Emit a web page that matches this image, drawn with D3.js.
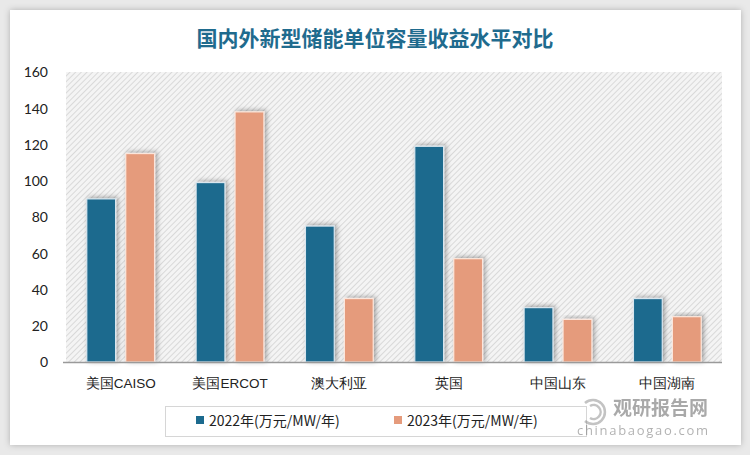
<!DOCTYPE html>
<html><head><meta charset="utf-8">
<script src="https://cdn.jsdelivr.net/npm/d3@7"></script>
<style>
html,body{margin:0;padding:0;background:#e9e9e9;}
svg{display:block;font-family:"Noto Sans CJK SC","Noto Sans",sans-serif;}
</style></head><body>
<svg id="c" width="750" height="455"></svg>
<script>
const categories = ["美国CAISO","美国ERCOT","澳大利亚","英国","中国山东","中国湖南"];
const seriesNames = ["2022年(万元/MW/年)","2023年(万元/MW/年)"];
const values2022 = [90,99,75,119,30,35];
const values2023 = [115,138,35,57,23.5,25];
const yTicks = [0,20,40,60,80,100,120,140,160];
const colors = ["#1c6a8e","#e59b7c"];

const svg = d3.select("#c");
const defs = svg.append("defs");
const pat = defs.append("pattern").attr("id","hatch").attr("patternUnits","userSpaceOnUse")
  .attr("width",4).attr("height",4).attr("patternTransform","rotate(45)");
pat.append("rect").attr("width",4).attr("height",4).attr("fill","#f4f4f4");
pat.append("line").attr("x1",0).attr("y1",0).attr("x2",0).attr("y2",4).attr("stroke","#d2d2d2").attr("stroke-width",1.6);
const f = defs.append("filter").attr("id","sh").attr("x","-30%").attr("y","-10%").attr("width","160%").attr("height","130%");
f.append("feDropShadow").attr("dx",2).attr("dy",-1).attr("stdDeviation",2.5).attr("flood-color","#000").attr("flood-opacity",0.35);
const cf = defs.append("filter").attr("id","csh").attr("x","-5%").attr("y","-5%").attr("width","110%").attr("height","110%");
cf.append("feDropShadow").attr("dx",0).attr("dy",0).attr("stdDeviation",3).attr("flood-color","#000").attr("flood-opacity",0.25);

// card
svg.append("rect").attr("x",10).attr("y",10).attr("width",731).attr("height",435).attr("fill","#fff").attr("filter","url(#csh)");

svg.append("text").attr("x",375).attr("y",46).attr("text-anchor","middle")
  .attr("font-size",21).attr("font-weight","bold").attr("fill","#1f6b8e")
  .text("国内外新型储能单位容量收益水平对比");

const m = {l:66, r:722, t:72, b:362};
const x0 = d3.scaleBand().domain(categories).range([m.l,m.r]).paddingInner(0.38).paddingOuter(0.19);
const x1 = d3.scaleBand().domain([0,1]).range([0,x0.bandwidth()]).paddingInner(0.26);
const y = d3.scaleLinear().domain([0,160]).range([m.b,m.t]);

svg.append("rect").attr("x",m.l).attr("y",m.t).attr("width",m.r-m.l).attr("height",m.b-m.t).attr("fill","url(#hatch)");

const yAxis = d3.axisLeft(y).tickValues(yTicks).tickSize(0).tickPadding(0);
const ga = svg.append("g").attr("transform",`translate(48,0)`).call(yAxis);
ga.select(".domain").remove();
ga.selectAll("text").attr("font-size",14).attr("fill","#222").attr("font-family","Lato, 'Noto Sans', sans-serif").attr("dy","0.35em");

const data = [values2022, values2023];
categories.forEach((c,i)=>{
  data.forEach((arr,s)=>{
    svg.append("rect")
      .attr("x",x0(c)+x1(s)).attr("y",y(arr[i]))
      .attr("width",x1.bandwidth()).attr("height",y(0)-y(arr[i]))
      .attr("fill",colors[s]).attr("stroke",s===0?"#d9e6ee":"#fbe6dc").attr("stroke-width",1.2)
      .attr("filter","url(#sh)");
  });
});

svg.append("line").attr("x1",m.l-3).attr("x2",m.r).attr("y1",m.b+0.5).attr("y2",m.b+0.5).attr("stroke","#9a9a9a").attr("stroke-width",1.5);

const xAxis = d3.axisBottom(x0).tickSize(0).tickPadding(0);
const gx = svg.append("g").attr("transform",`translate(0,${m.b+21})`).call(xAxis);
gx.select(".domain").remove();
gx.selectAll("text").attr("font-size",13.5).attr("fill","#222").attr("dy","0.35em");

// legend
svg.append("rect").attr("x",165.5).attr("y",406.5).attr("width",421).attr("height",30).attr("fill","#fff").attr("stroke","#d6d6d6");
const lx = [196,394];
seriesNames.forEach((n,s)=>{
  svg.append("rect").attr("x",lx[s]).attr("y",416).attr("width",8).attr("height",8).attr("fill",colors[s]);
  svg.append("text").attr("x",lx[s]+13).attr("y",421).attr("dy","0.35em").attr("font-size",14).attr("fill","#222").text(n);
});

// watermark
const wm = svg.append("g").attr("opacity",0.5);
wm.append("text").attr("x",708).attr("y",415).attr("text-anchor","end").attr("font-size",19).attr("font-weight","bold").attr("fill","#555").text("观研报告网");
wm.append("text").attr("x",708).attr("y",435).attr("text-anchor","end").attr("font-size",13).attr("fill","#666").attr("font-family","'Open Sans',sans-serif").attr("textLength",131).text("chinabaogao.com");
wm.append("path").attr("d","M585,403 a12,12 0 1,1 0,18 M590,406 a7,7 0 1,1 0,12").attr("fill","none").attr("stroke","#888").attr("stroke-width",2.5);
</script></body></html>
